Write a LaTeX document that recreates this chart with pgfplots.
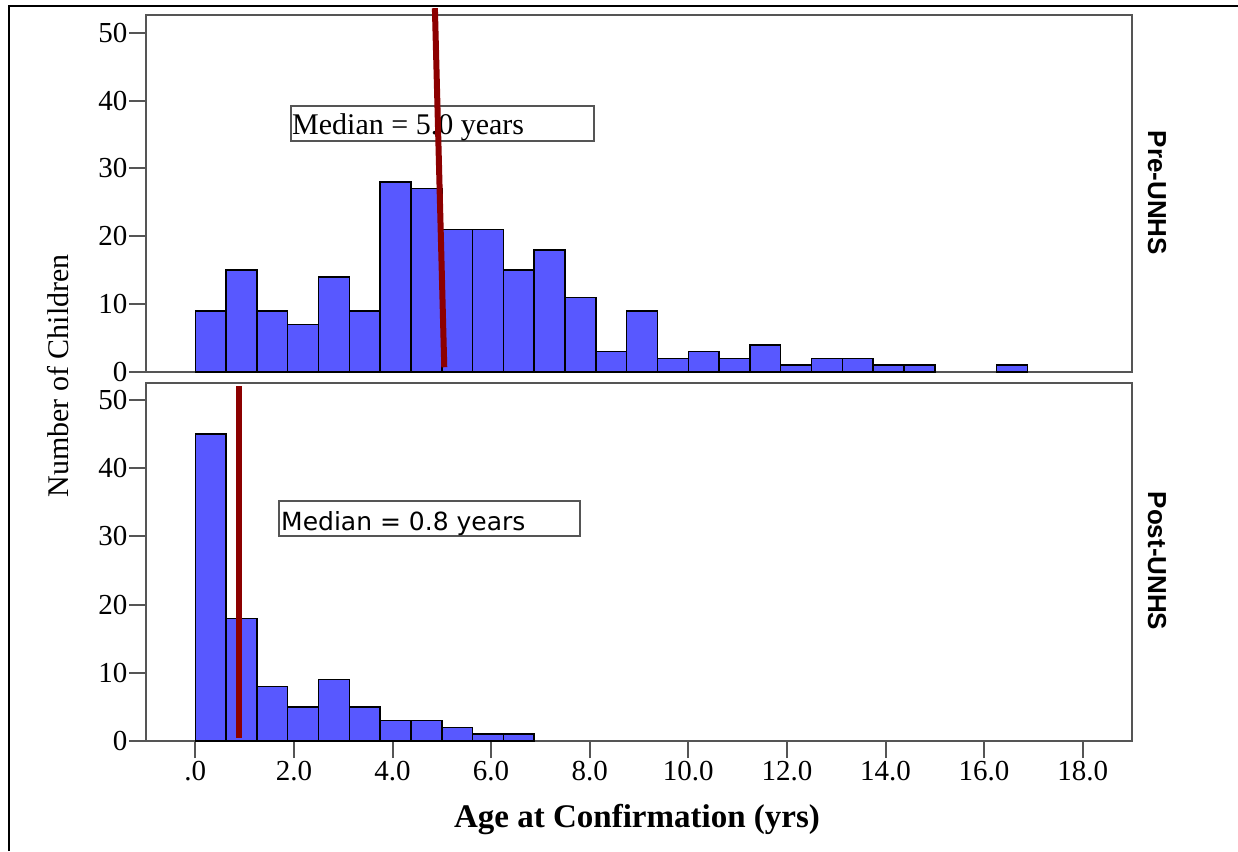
\documentclass[border=0pt]{standalone}
\usepackage{fontspec}
\setmainfont{Liberation Serif}
\newfontfamily\sansf{Liberation Sans}
\newfontfamily\dejavu{DejaVu Sans}
\usepackage{pgfplots}
\pgfplotsset{compat=1.18}
\definecolor{barblue}{RGB}{88,88,255}
\definecolor{medred}{RGB}{140,0,0}
\definecolor{framegray}{RGB}{85,85,85}
\newcommand\tl{\fontsize{29}{29}\selectfont}
\begin{document}
\begin{tikzpicture}
\useasboundingbox (0pt,0pt) rectangle (1238pt,851pt);
\fill[white] (0pt,0pt) rectangle (1238pt,851pt);
% outer frame (left and top)
\draw[line width=2.5pt,black] (9pt,0pt) -- (9pt,845pt) -- (1238pt,845pt);
% median boxes
\draw[line width=1.5pt,framegray] (291pt,710pt) rectangle (594pt,745pt);
\node[anchor=base west,inner sep=0pt,font=\fontsize{30}{30}\selectfont] at (292pt,716pt) {Median = 5.0 years};
\draw[line width=1.5pt,framegray] (279pt,315pt) rectangle (580pt,350pt);
\node[anchor=base west,inner sep=0pt,font=\dejavu\fontsize{25}{25}\selectfont] at (281pt,320pt) {Median = 0.8 years};
\pgfplotsset{
  myaxis/.style={
    scale only axis,
    width=986pt,
    xmin=-1, xmax=19,
    ymin=0,
    clip=false,
    axis line style={draw=framegray,line width=2pt},
    tick style={draw=framegray,line width=2pt},
    tick align=outside,
    axis y line*=left,
    ytick={0,10,20,30,40,50},
    yticklabels={{\tl 0},{\tl 10},{\tl 20},{\tl 30},{\tl 40},{\tl 50}},
    yticklabel style={xshift=2pt},
    major tick length=17pt,
  }
}
% top panel
\begin{axis}[myaxis,
  at={(146pt,479pt)}, anchor=south west,
  height=357pt, ymax=52.6,
  xtick=\empty,
  axis x line=none,
]
\draw[framegray,line width=2pt] (rel axis cs:0,0) rectangle (rel axis cs:1,1);
\addplot[ybar interval, fill=barblue, draw=black, line width=1.5pt] coordinates {
(0,9) (0.625,15) (1.25,9) (1.875,7) (2.5,14) (3.125,9) (3.75,28) (4.375,27)
(5,21) (5.625,21) (6.25,15) (6.875,18) (7.5,11) (8.125,3) (8.75,9) (9.375,2)
(10,3) (10.625,2) (11.25,4) (11.875,1) (12.5,2) (13.125,2) (13.75,1) (14.375,1) (15,0)};
\addplot[ybar interval, fill=barblue, draw=black, line width=1.5pt] coordinates {
(16.25,1) (16.875,0)};
\addplot[medred, line width=6pt, no marks] coordinates {(4.86,53.6) (5.05,0.7)};
\end{axis}
% bottom panel
\begin{axis}[myaxis,
  at={(146pt,110pt)}, anchor=south west,
  height=358pt, ymax=52.5,
  xtick={0,2,4,6,8,10,12,14,16,18},
  xticklabels={{\tl .0},{\tl 2.0},{\tl 4.0},{\tl 6.0},{\tl 8.0},{\tl 10.0},{\tl 12.0},{\tl 14.0},{\tl 16.0},{\tl 18.0}},
  axis x line*=bottom,
]
\draw[framegray,line width=2pt] (rel axis cs:0,0) rectangle (rel axis cs:1,1);
\addplot[ybar interval, fill=barblue, draw=black, line width=1.5pt] coordinates {
(0,45) (0.625,18) (1.25,8) (1.875,5) (2.5,9) (3.125,5) (3.75,3) (4.375,3)
(5,2) (5.625,1) (6.25,1) (6.875,0)};
\addplot[medred, line width=6pt, no marks] coordinates {(0.894,52.0) (0.894,0.4)};
\end{axis}
% labels
\node[rotate=90,font=\fontsize{30}{30}\selectfont] at (58pt,475pt) {Number of Children};
\node[anchor=base,font=\bfseries\fontsize{33}{33}\selectfont] at (637pt,24pt) {Age at Confirmation (yrs)};
\node[rotate=-90,font=\sansf\bfseries\fontsize{26}{26}\selectfont] at (1157pt,658pt) {Pre-UNHS};
\node[rotate=-90,font=\sansf\bfseries\fontsize{26}{26}\selectfont] at (1157pt,290pt) {Post-UNHS};
\end{tikzpicture}
\end{document}
